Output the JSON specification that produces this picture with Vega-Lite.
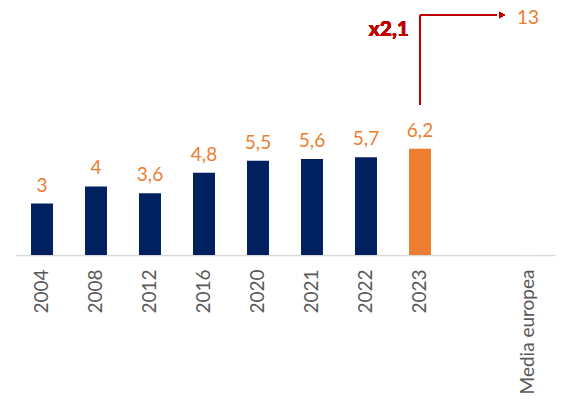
{
  "$schema": "https://vega.github.io/schema/vega-lite/v6.json",
  "width": 540,
  "height": 240,
  "autosize": {"type": "none"},
  "padding": {"left": 15, "top": 15, "right": 14, "bottom": 155},
  "config": {
    "view": {"stroke": null},
    "font": "Lato",
    "locale": {"number": {"decimal": ",", "thousands": ".", "grouping": [3], "currency": ["", "€"]}}
  },
  "data": {
    "values": [
      {"year": "2004", "value": 3},
      {"year": "2008", "value": 4},
      {"year": "2012", "value": 3.6},
      {"year": "2016", "value": 4.8},
      {"year": "2020", "value": 5.5},
      {"year": "2021", "value": 5.6},
      {"year": "2022", "value": 5.7},
      {"year": "2023", "value": 6.2},
      {"year": "Media europea", "value": 13}
    ]
  },
  "layer": [
    {
      "mark": {"type": "bar"},
      "encoding": {
        "x": {
          "field": "year", "type": "nominal", "sort": null,
          "scale": {"domain": ["2004", "2008", "2012", "2016", "2020", "2021", "2022", "2023", " ", "Media europea"], "paddingInner": 0.593, "paddingOuter": 0.2965},
          "axis": {"title": null, "labelAngle": -90, "labelAlign": "right", "labelBaseline": "middle", "ticks": false, "labelPadding": 14, "domainColor": "#d9d9d9", "domainWidth": 1.3, "labelColor": "#595959", "labelFontSize": 19, "labelFont": "Lato"}
        },
        "y": {"field": "value", "type": "quantitative", "scale": {"domain": [0, 14], "nice": false, "zero": true}, "axis": null},
        "color": {
          "condition": [
            {"test": "datum.year === '2023'", "value": "#ED7D31"},
            {"test": "datum.year === 'Media europea'", "value": "#ffffff"}
          ],
          "value": "#002060"
        }
      }
    },
    {
      "transform": [{"filter": "datum.year !== 'Media europea'"}],
      "mark": {"type": "text", "baseline": "alphabetic", "dy": -12, "fontSize": 19, "color": "#ED7D31"},
      "encoding": {
        "x": {"field": "year", "type": "nominal"},
        "y": {"field": "value", "type": "quantitative"},
        "text": {"field": "value", "type": "quantitative", "format": ".1~f"}
      }
    },
    {
      "transform": [{"filter": "datum.year === 'Media europea'"}],
      "mark": {"type": "text", "baseline": "alphabetic", "dy": -8, "fontSize": 19, "color": "#ED7D31"},
      "encoding": {
        "x": {"field": "year", "type": "nominal"},
        "y": {"field": "value", "type": "quantitative"},
        "text": {"field": "value", "type": "quantitative", "format": ".1~f"}
      }
    },
    {
      "mark": {"type": "rule", "color": "#C00000", "strokeWidth": 1.5},
      "encoding": {
        "x": {"datum": "2023", "type": "nominal"},
        "y": {"datum": 8.75, "type": "quantitative"},
        "y2": {"datum": 14}
      }
    },
    {
      "mark": {"type": "rule", "color": "#C00000", "strokeWidth": 1.5, "x2Offset": -31},
      "encoding": {
        "x": {"datum": "2023", "type": "nominal"},
        "x2": {"datum": "Media europea"},
        "y": {"datum": 14, "type": "quantitative"}
      }
    },
    {
      "mark": {"type": "point", "shape": "triangle-right", "filled": true, "opacity": 1, "color": "#C00000", "size": 45, "xOffset": -26},
      "encoding": {
        "x": {"datum": "Media europea", "type": "nominal"},
        "y": {"datum": 14, "type": "quantitative"}
      }
    },
    {
      "mark": {"type": "text", "align": "right", "baseline": "alphabetic", "dx": -11, "fontSize": 21, "fontWeight": "bold", "font": "Lato", "color": "#C00000", "text": "x2,1"},
      "encoding": {
        "x": {"datum": "2023", "type": "nominal"},
        "y": {"datum": 12.78, "type": "quantitative"}
      }
    }
  ]
}
